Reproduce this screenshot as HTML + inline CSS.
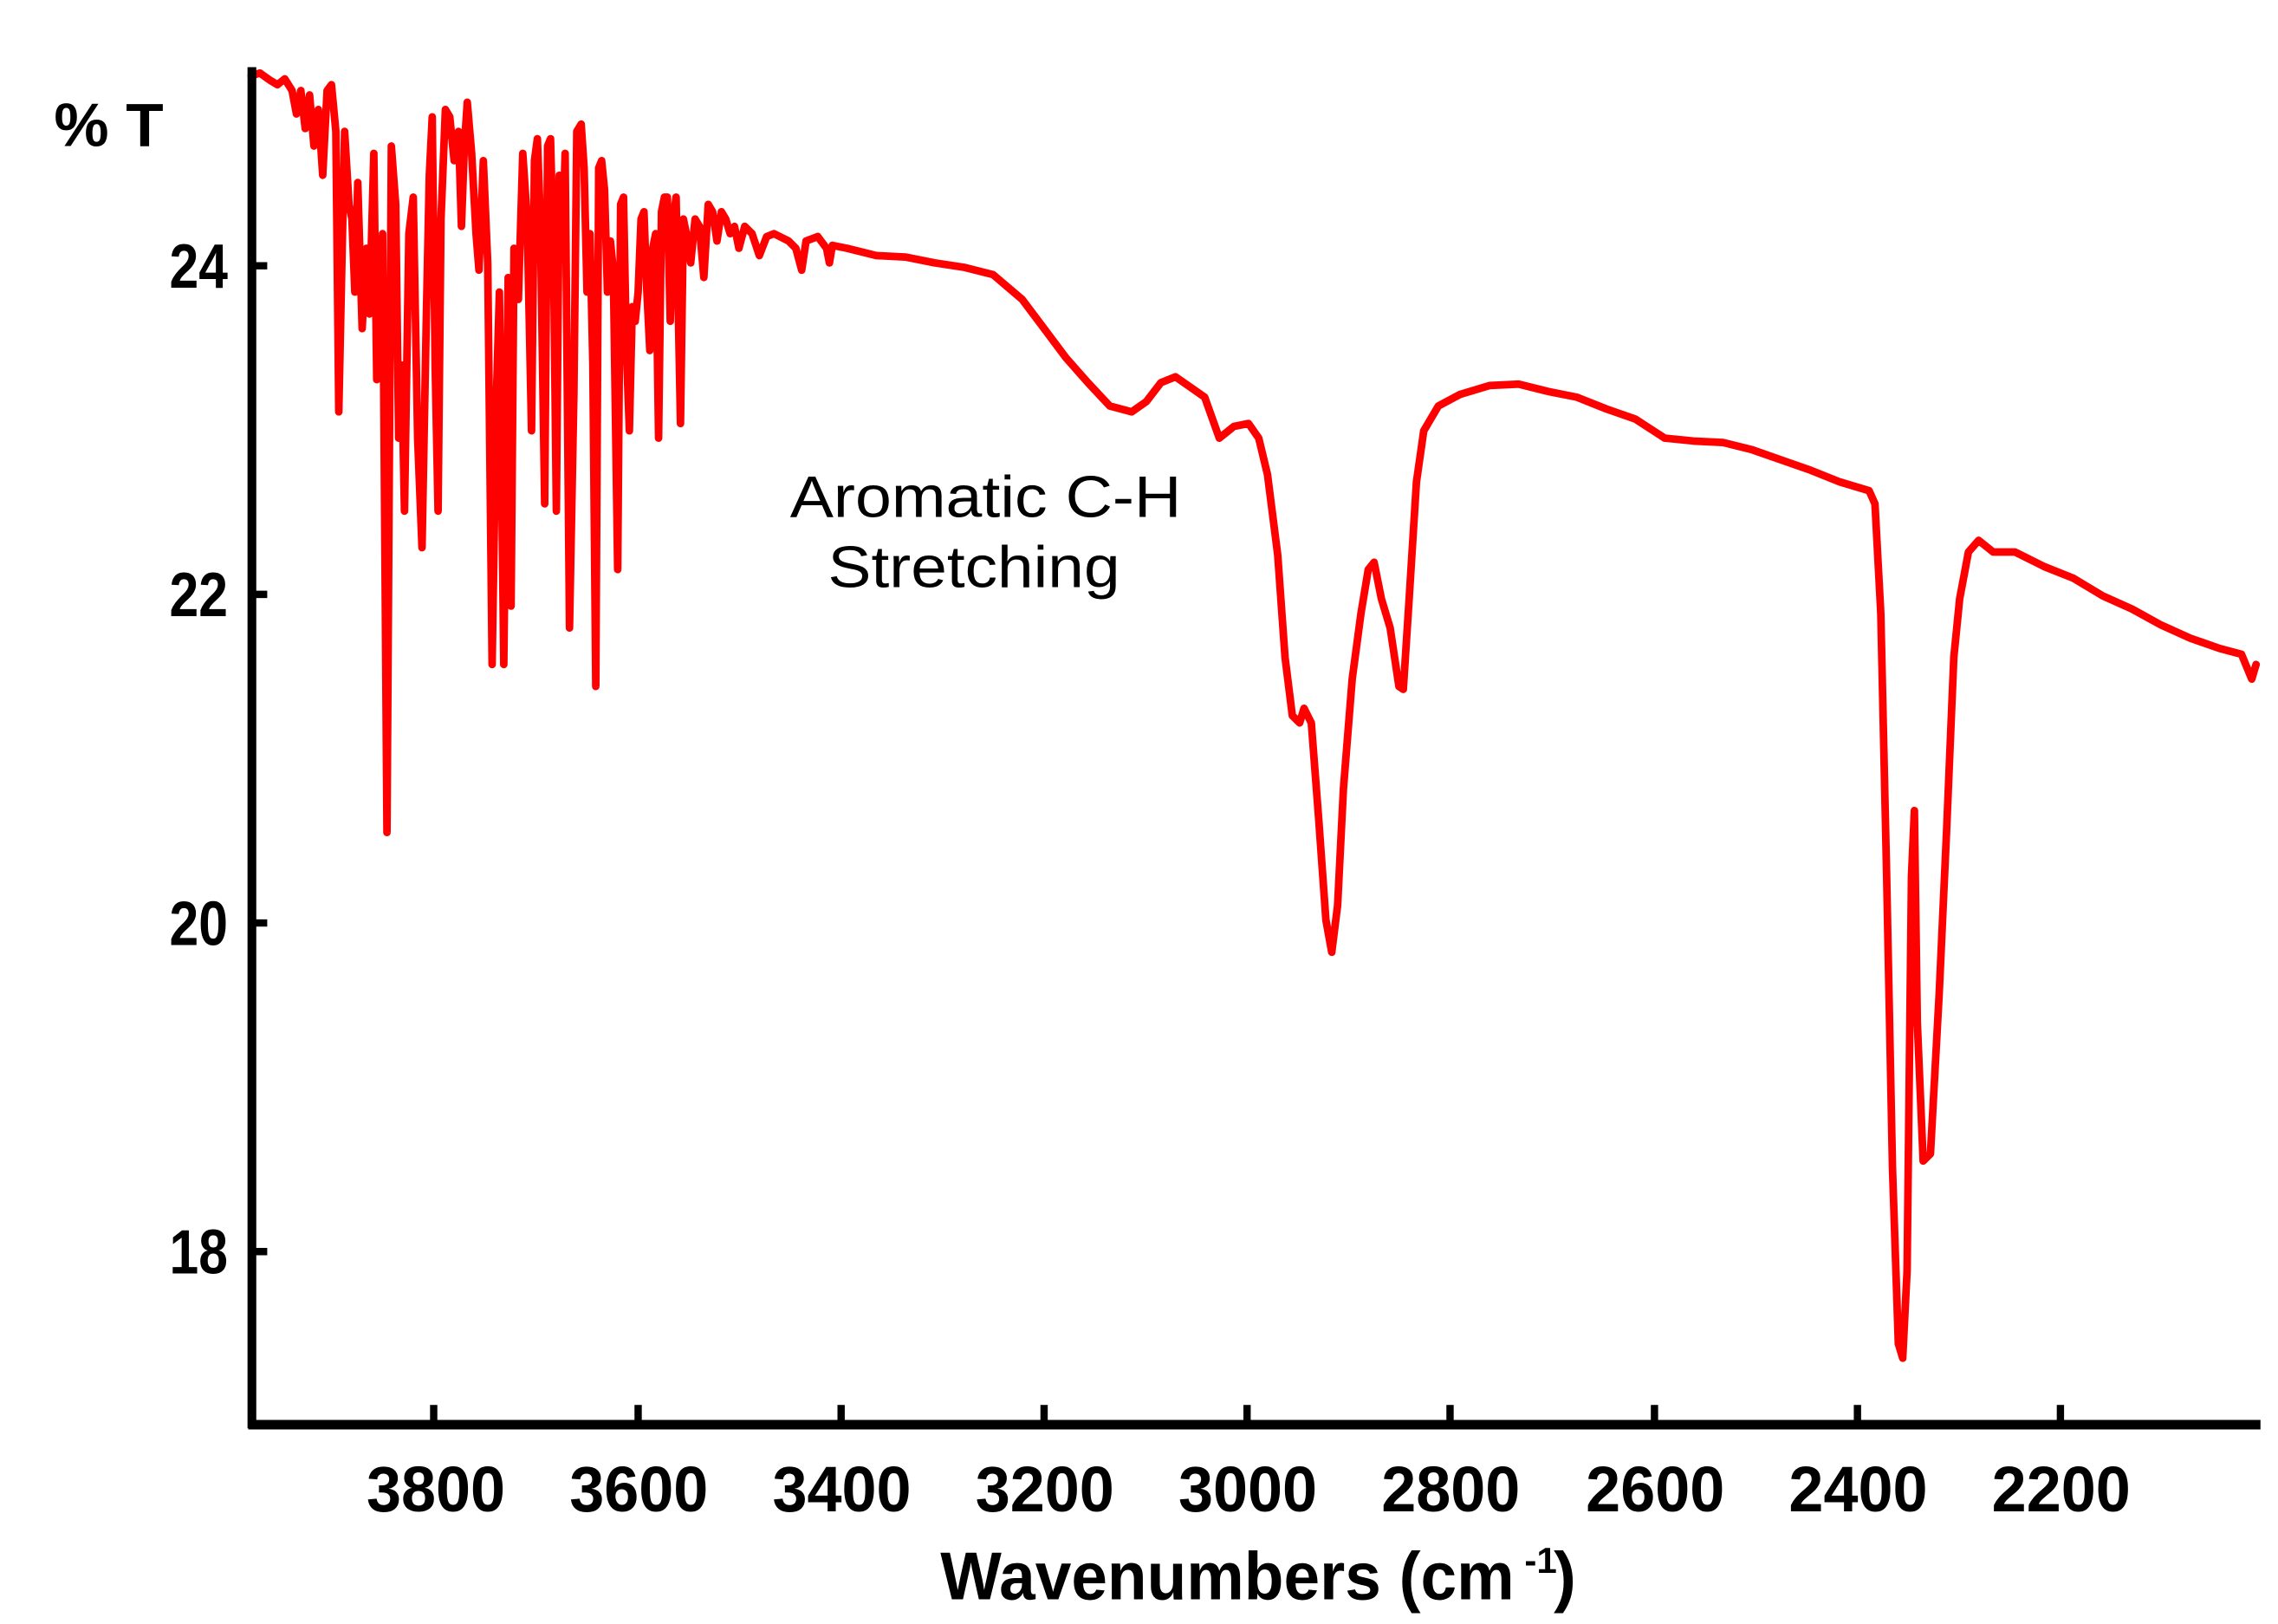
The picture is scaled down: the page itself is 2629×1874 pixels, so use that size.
<!DOCTYPE html>
<html><head><meta charset="utf-8"><style>
html,body{margin:0;padding:0;background:#fff;width:2629px;height:1874px;overflow:hidden}
svg{display:block}
.b{font-family:"Liberation Sans",sans-serif;font-weight:bold;fill:#000}
.r{font-family:"Liberation Sans",sans-serif;fill:#000}
</style></head><body>
<svg width="2629" height="1874" viewBox="0 0 1560 1112" xmlns="http://www.w3.org/2000/svg">
<rect width="1560" height="1112" fill="#fff"/>
<path fill="none" stroke="#ff0000" stroke-width="5.2" stroke-linejoin="round" stroke-linecap="round" d="M172 52 L178 50 L185 55 L190 58 L195 54 L200 62 L203 78 L206 62 L209 88 L212 65 L215 100 L218 75 L221 120 L224 62 L227 58 L230 90 L232 282 L236 90 L239 140 L241 150 L243 200 L245 125 L248 225 L251 170 L253 215 L256 105 L258 260 L260 230 L262 160 L265 570 L268 100 L271 140 L273 300 L275 250 L277 350 L280 160 L283 135 L286 300 L289 375 L292 215 L294 120 L296 80 L298 250 L300 350 L302 150 L305 75 L308 80 L311 110 L314 90 L316 155 L318 100 L320 70 L323 105 L326 160 L328 185 L331 110 L334 180 L337 455 L340 270 L342 200 L345 455 L348 190 L350 415 L352 170 L355 205 L358 105 L361 150 L364 295 L366 110 L368 95 L370 150 L373 345 L375 100 L377 95 L379 170 L381 350 L383 120 L385 175 L387 105 L390 430 L393 270 L395 90 L398 85 L400 115 L402 200 L404 160 L406 250 L408 470 L410 115 L412 110 L414 130 L416 200 L418 165 L420 185 L423 390 L425 140 L427 135 L429 240 L431 295 L433 210 L435 220 L437 200 L439 150 L441 145 L443 200 L445 240 L447 170 L449 160 L451 300 L453 145 L455 135 L457 135 L459 220 L461 150 L463 135 L466 290 L468 150 L470 160 L473 180 L476 150 L479 155 L482 190 L485 140 L488 145 L491 165 L494 145 L497 150 L500 160 L503 155 L506 170 L510 155 L515 160 L520 175 L525 162 L530 160 L540 165 L545 170 L549 185 L552 165 L560 162 L566 170 L568 180 L570 168 L580 170 L600 175 L620 176 L640 180 L660 183 L680 188 L700 205 L715 225 L730 245 L745 262 L760 278 L775 282 L785 275 L795 262 L805 258 L815 265 L825 272 L835 300 L845 292 L855 290 L862 300 L868 325 L875 380 L880 450 L885 490 L890 495 L893 485 L898 495 L903 560 L908 630 L912 652 L916 620 L920 540 L926 465 L932 420 L937 390 L941 385 L946 410 L952 430 L958 470 L961 472 L965 410 L970 330 L975 295 L985 278 L1000 270 L1020 264 L1040 263 L1060 268 L1080 272 L1100 280 L1120 287 L1140 300 L1160 302 L1180 303 L1200 308 L1220 315 L1240 322 L1260 330 L1280 336 L1284 345 L1288 420 L1292 600 L1296 800 L1300 920 L1303 930 L1306 870 L1309 600 L1311 555 L1313 700 L1317 795 L1322 790 L1328 680 L1333 570 L1338 450 L1342 410 L1348 378 L1355 370 L1365 378 L1380 378 L1400 388 L1420 396 L1440 408 L1460 417 L1480 428 L1500 437 L1520 444 L1535 448 L1542 465 L1545 455"/>
<line x1="172.5" y1="46" x2="172.5" y2="978" stroke="#000" stroke-width="6"/>
<line x1="170" y1="975.5" x2="1548" y2="975.5" stroke="#000" stroke-width="6.5"/>
<g stroke="#000" stroke-width="5">
<line x1="297" y1="962" x2="297" y2="975"/><line x1="437" y1="962" x2="437" y2="975"/>
<line x1="576" y1="962" x2="576" y2="975"/><line x1="715" y1="962" x2="715" y2="975"/>
<line x1="854" y1="962" x2="854" y2="975"/><line x1="993" y1="962" x2="993" y2="975"/>
<line x1="1133" y1="962" x2="1133" y2="975"/><line x1="1272" y1="962" x2="1272" y2="975"/>
<line x1="1411" y1="962" x2="1411" y2="975"/>
<line x1="172" y1="182" x2="183" y2="182"/><line x1="172" y1="407" x2="183" y2="407"/>
<line x1="172" y1="632" x2="183" y2="632"/><line x1="172" y1="857" x2="183" y2="857"/>
</g>
<text class="b" x="37" y="100" font-size="42" textLength="75" lengthAdjust="spacingAndGlyphs">% T</text>
<g class="b" font-size="43">
<text x="116" y="197" textLength="40" lengthAdjust="spacingAndGlyphs">24</text>
<text x="116" y="422" textLength="40" lengthAdjust="spacingAndGlyphs">22</text>
<text x="116" y="647" textLength="40" lengthAdjust="spacingAndGlyphs">20</text>
<text x="116" y="872" textLength="40" lengthAdjust="spacingAndGlyphs">18</text>
</g>
<g class="b" font-size="44">
<text x="251" y="1035" textLength="95" lengthAdjust="spacingAndGlyphs">3800</text>
<text x="390" y="1035" textLength="95" lengthAdjust="spacingAndGlyphs">3600</text>
<text x="529" y="1035" textLength="95" lengthAdjust="spacingAndGlyphs">3400</text>
<text x="668" y="1035" textLength="95" lengthAdjust="spacingAndGlyphs">3200</text>
<text x="807" y="1035" textLength="95" lengthAdjust="spacingAndGlyphs">3000</text>
<text x="946" y="1035" textLength="95" lengthAdjust="spacingAndGlyphs">2800</text>
<text x="1086" y="1035" textLength="95" lengthAdjust="spacingAndGlyphs">2600</text>
<text x="1225" y="1035" textLength="95" lengthAdjust="spacingAndGlyphs">2400</text>
<text x="1364" y="1035" textLength="95" lengthAdjust="spacingAndGlyphs">2200</text>
</g>
<text class="b" x="644" y="1095" font-size="46" textLength="393" lengthAdjust="spacingAndGlyphs">Wavenumbers (cm</text>
<text class="b" x="1044" y="1077" font-size="25">-1</text>
<text class="b" x="1064" y="1095" font-size="46">)</text>
<g class="r" font-size="40">
<text x="541" y="354" textLength="268" lengthAdjust="spacingAndGlyphs">Aromatic C-H</text>
<text x="567" y="402" textLength="200" lengthAdjust="spacingAndGlyphs">Stretching</text>
</g>
</svg>
</body></html>
